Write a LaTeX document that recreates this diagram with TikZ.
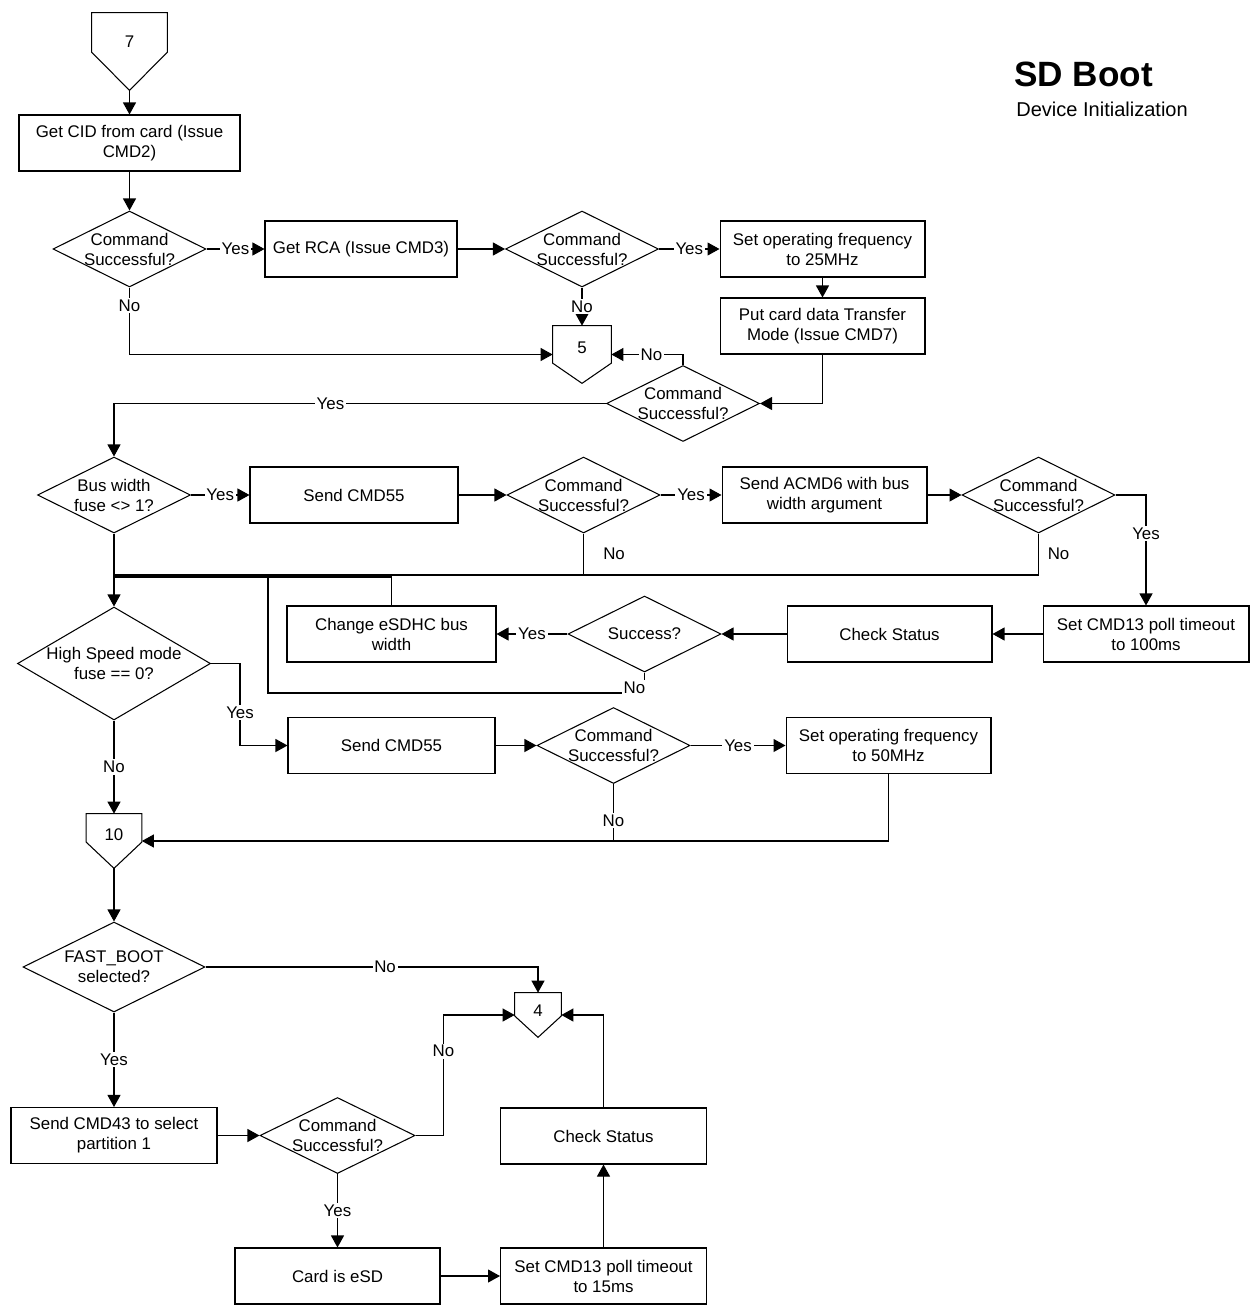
\documentclass[tikz,border=0pt]{standalone}
\usepackage{fontspec}
\setmainfont{Liberation Sans}
\usetikzlibrary{arrows.meta,positioning,calc,shapes.geometric}
\tikzset{
  >={Triangle[length=2.4mm,width=2.6mm]},
  flow/.style={->,draw=black,line width=0.6pt},
  wire/.style={draw=black,line width=0.6pt},
  body/.style={font=\fontsize{9.6}{11.4}\selectfont,text=black},
  procbox/.style={draw=black,line width=0.6pt,fill=white,rectangle,minimum width=4.1cm,minimum height=1.12cm,align=center,inner sep=1pt,body},
  decision/.style={draw=black,line width=0.6pt,fill=white,diamond,aspect=2,inner sep=-0.4cm,minimum width=3.06cm,minimum height=1.52cm,align=center,body},
  offpage/.style={rectangle,inner sep=0pt,body},
  answer/.style={fill=white,inner sep=1pt,body},
}
\newcommand{\offpageoutline}[2]{%
  \draw[line width=0.6pt] (#1.north west) -- (#1.north east)
    -- ($(#1.north east)!#2!(#1.south east)$) -- (#1.south)
    -- ($(#1.north west)!#2!(#1.south west)$) -- cycle;}

\begin{document}
\begin{tikzpicture}[x=0.02cm,y=-0.02cm]
\useasboundingbox (0,0) rectangle (1251,1308);

% title -----------------------------------------------------------------------
\node[font=\fontsize{20}{24}\selectfont\bfseries,inner sep=0pt,anchor=base west] (title) at (1014,87) {SD Boot};
\node[font=\fontsize{11.4}{13.5}\selectfont,inner sep=0pt,anchor=base west] (subtitle) at (1016,116) {Device Initialization};

% card identification ---------------------------------------------------------
\node[offpage,minimum width=1.5cm,minimum height=1.54cm,text depth=0.38cm] (c7) at (129.5,51.5) {7};
\offpageoutline{c7}{0.51}
\node[procbox,minimum width=4.42cm] (cid) at (129.5,143) {Get CID from card (Issue\\CMD2)};
\node[decision] (cidok) at (129.5,249) {Command\\Successful?};
\node[procbox,minimum width=3.84cm] (rca) at (361,249) {Get RCA (Issue CMD3)};
\node[decision] (rcaok) at (582,249) {Command\\Successful?};
\node[procbox] (f25) at (822.5,249) {Set operating frequency\\to 25MHz};
\node[procbox] (cmd7) at (822.5,326) {Put card data Transfer\\Mode (Issue CMD7)};
\node[offpage,minimum width=1.16cm,minimum height=1.14cm,text depth=0.26cm] (c5) at (582,354.5) {5};
\offpageoutline{c5}{0.65}
\node[decision] (cmd7ok) at (683,403.5) {Command\\Successful?};

\draw[flow] (c7.south) -- (cid.north);
\draw[flow] (cid.south) -- (cidok.north);
\draw[flow] (cidok.east) -- node[answer]{Yes} (rca.west);
\draw[flow] (cidok.south) |- node[answer,pos=0.135]{No} (c5.west);
\draw[flow] (rca.east) -- (rcaok.west);
\draw[flow] (rcaok.east) -- node[answer]{Yes} (f25.west);
\draw[flow] (rcaok.south) -- node[answer]{No} (c5.north);
\draw[flow] (f25.south) -- (cmd7.north);
\draw[flow] (cmd7.south) |- (cmd7ok.east);
\draw[flow] (cmd7ok.north) |- node[answer,pos=0.72]{No} (c5.east);

% bus width -------------------------------------------------------------------
\node[decision] (bus) at (114,495) {Bus width\\fuse <> 1?};
\node[procbox,minimum width=4.16cm] (cmd55a) at (354,495) {Send CMD55};
\node[decision] (cmd55ok) at (583.5,495) {Command\\Successful?};
\node[procbox] (acmd6) at (824.5,495) {Send ACMD6 with bus\\width argument};
\node[decision] (acmd6ok) at (1038.5,495) {Command\\Successful?};
\node[procbox,minimum width=4.12cm] (poll100) at (1146,634) {Set CMD13 poll timeout\\to 100ms};
\node[procbox] (status1) at (889.5,634) {Check Status};
\node[decision] (statusok) at (644.5,634) {Success?};
\node[procbox,minimum width=4.18cm] (buswidth) at (391.5,634) {Change eSDHC bus\\width};
\coordinate (merge) at (114,575);
\coordinate (merge2) at (114,577);
\coordinate (loopturn) at (268,693);

\draw[flow] (cmd7ok.west) -| node[answer,pos=0.28]{Yes} (bus.north);
\draw[flow] (bus.east) -- node[answer]{Yes} (cmd55a.west);
\draw[flow] (cmd55a.east) -- (cmd55ok.west);
\draw[flow] (cmd55ok.east) -- node[answer]{Yes} (acmd6.west);
\draw[flow] (acmd6.east) -- (acmd6ok.west);
\draw[flow] (acmd6ok.east) -| node[answer,pos=0.675]{Yes} (poll100.north);
\draw[wire] (acmd6ok.south) -- node[answer,right=1.4mm]{No} (acmd6ok.south |- merge) -- (merge);
\draw[wire] (cmd55ok.south) -- node[answer,right=3.5mm]{No} (cmd55ok.south |- merge);
\draw[flow] (poll100.west) -- (status1.east);
\draw[flow] (status1.west) -- (statusok.east);
\draw[flow] (statusok.west) -- node[answer]{Yes} (buswidth.east);
\draw[wire] (buswidth.north) |- (merge2);
\draw[wire] (statusok.south) |- node[answer,xshift=-0.2cm,yshift=0.1cm]{No} (loopturn) -- (loopturn |- merge2);

% high speed mode -------------------------------------------------------------
\node[decision,minimum width=3.86cm,minimum height=2.26cm] (hsfuse) at (114,663.5) {High Speed mode\\fuse == 0?};
\node[procbox,minimum width=4.14cm] (cmd55b) at (391.5,745.5) {Send CMD55};
\node[decision] (cmd55bok) at (613.5,745.5) {Command\\Successful?};
\node[procbox] (f50) at (888.5,745.5) {Set operating frequency\\to 50MHz};
\node[offpage,minimum width=1.1cm,minimum height=1.08cm,text depth=0.24cm] (c10) at (114,841) {10};
\offpageoutline{c10}{0.52}

\draw[flow] (bus.south) -- (hsfuse.north);
\draw[flow] (hsfuse.east) -- ++(29,0) |- node[answer,pos=0.3]{Yes} (cmd55b.west);
\draw[flow] (hsfuse.south) -- node[answer]{No} (c10.north);
\draw[flow] (cmd55b.east) -- (cmd55bok.west);
\draw[flow] (cmd55bok.east) -- node[answer]{Yes} (f50.west);
\draw[flow] (f50.south) |- (c10.east);
\draw[wire] (cmd55bok.south) -- node[answer,pos=0.64]{No} (cmd55bok.south |- c10.east);

% fast boot -------------------------------------------------------------------
\node[decision,minimum width=3.64cm,minimum height=1.8cm] (fastboot) at (114,967) {FAST\_BOOT\\selected?};
\node[offpage,minimum width=0.92cm,minimum height=0.88cm,text depth=0.16cm] (c4) at (538,1015) {4};
\offpageoutline{c4}{0.52}
\node[procbox,minimum width=4.12cm] (cmd43) at (114,1135.5) {Send CMD43 to select\\partition 1};
\node[decision,minimum width=3.1cm] (cmd43ok) at (337.5,1135.5) {Command\\Successful?};
\node[procbox] (esd) at (337.5,1276) {Card is eSD};
\node[procbox,minimum width=4.12cm] (poll15) at (603.5,1276) {Set CMD13 poll timeout\\to 15ms};
\node[procbox,minimum width=4.12cm] (status2) at (603.5,1136) {Check Status};

\draw[flow] (c10.south) -- (fastboot.north);
\draw[flow] (fastboot.east) -| node[answer,pos=0.27]{No} (c4.north);
\draw[flow] (fastboot.south) -- node[answer]{Yes} (cmd43.north);
\draw[flow] (cmd43.east) -- (cmd43ok.west);
\draw[flow] (cmd43ok.east) -- ++(28,0) |- node[answer,pos=0.35]{No} (c4.west);
\draw[flow] (cmd43ok.south) -- node[answer]{Yes} (esd.north);
\draw[flow] (esd.east) -- (poll15.west);
\draw[flow] (poll15.north) -- (status2.south);
\draw[flow] (status2.north) |- (c4.east);

\end{tikzpicture}
\end{document}
